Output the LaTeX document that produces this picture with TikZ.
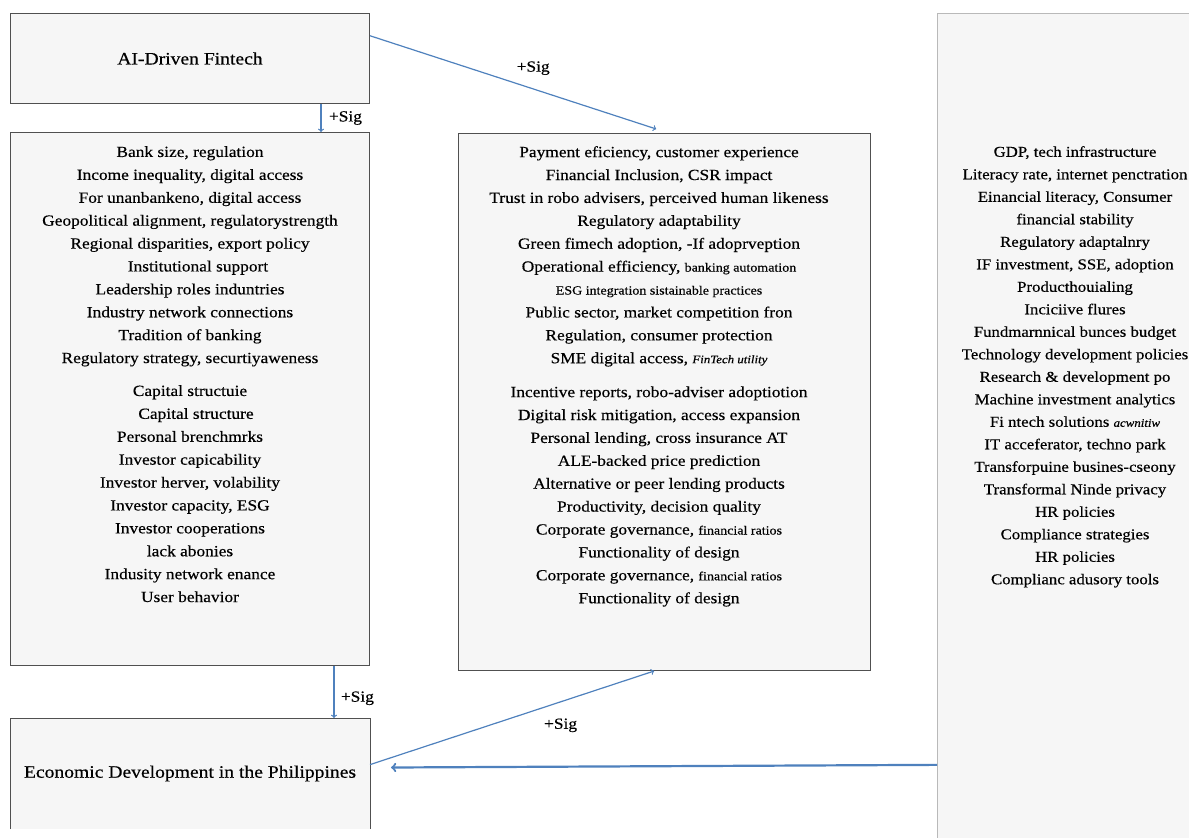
\documentclass[tikz,border=0pt]{standalone}
\usepackage{fontspec}
\setmainfont{Liberation Serif}[FakeStretch=1.12, FakeBold=0.4]
\usetikzlibrary{positioning,calc}

\definecolor{sigblue}{HTML}{4F81BD}
\definecolor{boxfill}{HTML}{F6F6F6}
\definecolor{boxline}{HTML}{505050}
\newcommand\lesser[1]{{\fontsize{12.5}{22.9}\selectfont #1}}
\newcommand\smallit[1]{{\fontsize{11.5}{22.9}\selectfont\itshape #1}}

\tikzset{
  box/.style={draw=boxline, fill=boxfill, line width=1pt, anchor=north west, inner sep=0pt,
    font=\fontsize{17.5}{20}\selectfont},
  list/.style={align=center, inner sep=0pt, anchor=north, font=\fontsize{15.5}{22.9}\selectfont},
  sig/.style={->, draw=sigblue, line width=1.2pt},
  siglabel/.style={font=\fontsize{15.5}{18}\selectfont}
}

\begin{document}
\begin{tikzpicture}[x=1pt,y=-1pt]
\useasboundingbox (0,0) rectangle (1189,838);

% panel on the right, runs off the page
\node (ctrl) [box, draw=gray!55, fill=gray!7, minimum width=270pt, minimum height=840pt] at (937,13) {};

\node (ai) [box, minimum width=359pt, minimum height=90pt] at (10,13) {AI-Driven Fintech};
\node (factors) [box, minimum width=359pt, minimum height=533pt] at (10,132) {};
\node (outcomes) [box, minimum width=412pt, minimum height=537pt] at (458,133) {};
\node (econ) [box, draw=none, minimum width=359pt, minimum height=110pt] at (10,718)
  {Economic Development in the Philippines};
\draw [boxline, line width=1pt] (econ.south west) |- (econ.north east) -- (econ.south east);

\node (factorlist) [list] at (190,146) {Bank size, regulation\\
  Income inequality, digital access\\
  For unanbankeno, digital access\\
  Geopolitical alignment, regulatorystrength\\
  Regional disparities, export policy\\
  \hspace{16pt}Institutional support\\
  Leadership roles induntries\\
  Industry network connections\\
  Tradition of banking\\
  Regulatory strategy, securtiyaweness\\[10pt]
  Capital structuie\\
  \hspace{12pt}Capital structure\\
  Personal brenchmrks\\
  Investor capicability\\
  Investor herver, volability\\
  Investor capacity, ESG\\
  Investor cooperations\\
  lack abonies\\
  Indusity network enance\\
  User behavior};

\node (outcomelist) [list] at (659,146) {Payment eficiency, customer experience\\
  Financial Inclusion, CSR impact\\
  Trust in robo advisers, perceived human likeness\\
  Regulatory adaptability\\
  Green fimech adoption, -If adoprveption\\
  Operational efficiency, \lesser{banking automation}\\
  \lesser{ESG integration sistainable practices}\\
  Public sector, market competition fron\\
  Regulation, consumer protection\\
  SME digital access, \smallit{FinTech utility}\\[11pt]
  Incentive reports, robo-adviser adoptiotion\\
  Digital risk mitigation, access expansion\\
  Personal lending, cross insurance AT\\
  ALE-backed price prediction\\
  Alternative or peer lending products\\
  Productivity, decision quality\\
  Corporate governance, \lesser{financial ratios}\\
  Functionality of design\\
  Corporate governance, \lesser{financial ratios}\\
  Functionality of design};

\node (ctrllist) [list, font=\fontsize{15}{22.5}\selectfont] at (1075,146) {GDP, tech infrastructure\\
  Literacy rate, internet penctration\\
  Einancial literacy, Consumer\\
  financial stability\\
  Regulatory adaptalnry\\
  IF investment, SSE, adoption\\
  Producthouialing\\
  Inciciive flures\\
  Fundmarnnical bunces budget\\
  Technology development policies\\
  Research \& development po\\
  Machine investment analytics\\
  Fi ntech solutions \smallit{acwnitiw}\\
  IT acceferator, techno park\\
  Transforpuine busines-cseony\\
  Transformal Ninde privacy\\
  HR policies\\
  Compliance strategies\\
  HR policies\\
  Complianc adusory tools};

% significance paths
\draw [sig] ($(ai.south west)!.864!(ai.south east)$) -- ($(factors.north west)!.864!(factors.north east)$)
  node [siglabel, midway, right=4pt] {+Sig};
\draw [sig] ($(ai.north east)!.25!(ai.south east)$) -- ($(outcomes.north west)!.48!(outcomes.north east)+(0,-4)$)
  node [siglabel, pos=.57, above=10pt] {+Sig};
\draw [sig] ($(factors.south west)!.9!(factors.south east)$) -- ($(econ.north west)!.9!(econ.north east)$)
  node [siglabel, pos=.62, right=3pt] {+Sig};
\draw [sig] ($(econ.north east)!.42!(econ.south east)$) -- ($(outcomes.south west)!.475!(outcomes.south east)$)
  node [siglabel, pos=.62, below right=8pt and -6pt] {+Sig};
\draw [sig, line width=2.2pt] ($(ctrl.north west)!.894!(ctrl.south west)$) -- ($(econ.east)+(21,-6)$);

\end{tikzpicture}
\end{document}
